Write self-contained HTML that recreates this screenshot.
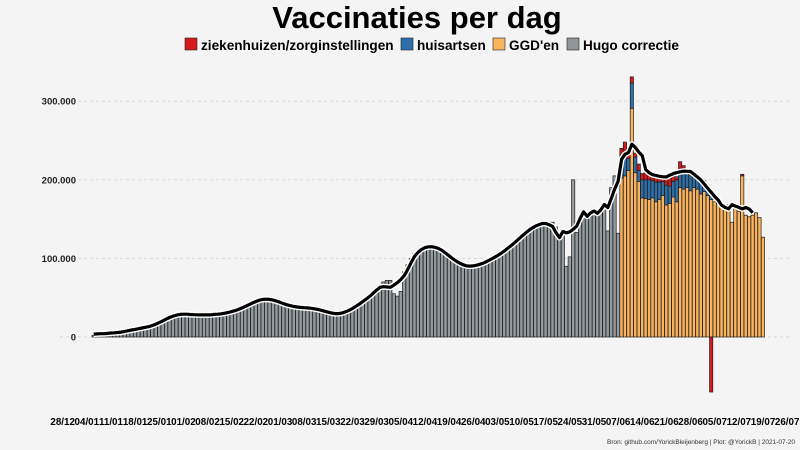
<!DOCTYPE html>
<html><head><meta charset="utf-8"><style>
body{margin:0;background:#f4f4f4;}
svg{display:block;font-family:"Liberation Sans",Arial,sans-serif;}
</style></head><body>
<svg id="chart" width="800" height="450" viewBox="0 0 800 450">
<rect width="800" height="450" fill="#f4f4f4"/>
<text x="417" y="28" text-anchor="middle" font-size="31" font-weight="bold" fill="#000">Vaccinaties per dag</text>
<g font-size="13.6" font-weight="bold">
 <g><rect x="185" y="38" width="12" height="12" fill="#d7191c" stroke="#222" stroke-width="0.6"/><text x="201" y="50">ziekenhuizen/zorginstellingen</text></g>
 <g><rect x="401" y="38" width="12" height="12" fill="#2f6fa8" stroke="#222" stroke-width="0.6"/><text x="417" y="50">huisartsen</text></g>
 <g><rect x="493" y="38" width="12" height="12" fill="#fbb45e" stroke="#222" stroke-width="0.6"/><text x="509" y="50">GGD'en</text></g>
 <g><rect x="567" y="38" width="12" height="12" fill="#8f979b" stroke="#222" stroke-width="0.6"/><text x="583" y="50">Hugo correctie</text></g>
</g>
<g id="grid"></g>
<g id="yaxis"></g>
<g id="bars"></g>
<g id="line"></g>
<g id="xaxis"></g>
<text x="795" y="444" text-anchor="end" font-size="6.5" fill="#333">Bron: github.com/YorickBleijenberg | Plot: @YorickB  |  2021-07-20</text>
</svg>
<script>
// values in thousands, day 0 = 06/01
const grayVals=[2,2,6,5,5,5,4,5,6,7,8,9,10,11,11,12,13,14,15,17,20,23,26,28,30,30,29,29,29,28,28,27,29,28,28,29,28,29,30,31,32,33,35,36,38,41,44,46,48,49,50,50,48,46,44,42,40,39,38,38,38,37,37,37,36,36,35,33,31,30,28,28,28,30,33,37,40,42,44,47,50,55,60,64,70,72,72,55,52,58,83,92,100,106,110,113,115,117,118,116,114,111,107,104,100,95,92,90,89,89,89,90,92,94,96,98,100,104,106,108,112,116,120,124,128,132,135,140,143,145,146,146,145,146,140,132,130,90,102,200,133,150,155,158,159,160,160,162,168,135,190,205,132];
const orangeVals=[202,205,212,291,209,198,177,176,175,177,172,175,180,168,170,178,172,190,188,190,186,190,188,182,185,180,175,172,170,168,165,168,146,165,160,205,155,153,155,158,152,127];
const blueVals=[30,28,15,32,20,14,23,24,25,22,25,22,18,25,22,20,28,18,20,20,20,18,15,20,12,12,10,0,0,0,0,0,0,0,0,0,0,0,0,0,0,0];
const redVals=[8,15,10,8,5,8,8,9,8,6,10,8,5,8,10,6,4,15,10,2,2,0,0,0,2,0,-70,0,0,0,0,0,0,0,0,2,0,0,0,0,0,0];
const yTicks=[0,100,200,300];
const yTickLabels=["0","100.000","200.000","300.000"];
const xTickLabels=["28/12","04/01","11/01","18/01","25/01","01/02","08/02","15/02","22/02","01/03","08/03","15/03","22/03","29/03","05/04","12/04","19/04","26/04","03/05","10/05","17/05","24/05","31/05","07/06","14/06","21/06","28/06","05/07","12/07","19/07","26/07"];

const NS="http://www.w3.org/2000/svg";
const dayW=3.45, x0=92, y0=337, kpx=0.786;
const X=d=>x0+d*dayW;
const Y=v=>y0-v*kpx;
function mk(tag,attrs,parent){const e=document.createElementNS(NS,tag);for(const k in attrs)e.setAttribute(k,attrs[k]);parent.appendChild(e);return e;}

const grid=document.getElementById('grid'), yaxis=document.getElementById('yaxis');
yTicks.forEach((t,i)=>{
  const l=mk('line',{x1:60,x2:792,y1:Y(t),y2:Y(t),stroke:'#d6d6d6','stroke-width':1,'stroke-dasharray':'3,3'},grid);
  
  
  const tx=mk('text',{x:76,y:Y(t)+3.5,'text-anchor':'end','font-size':9.5,'font-weight':'bold',fill:'#222'},yaxis);
  tx.textContent=yTickLabels[i];
  
  
});

const bars=document.getElementById('bars');
const bw=dayW-0.2;
function bar(d,v0,v1,fill,name){
  const top=Math.max(v0,v1), bot=Math.min(v0,v1);
  if(top-bot<=0)return;
  const r=mk('rect',{x:X(d),y:Y(top),width:bw,height:(top-bot)*kpx,fill:fill,stroke:'#1e1e1e','stroke-width':0.7},bars);
  
  
}
grayVals.forEach((v,i)=>bar(i,0,v,'#949ca0','bar-hugo-correctie'));
const off=grayVals.length;
const totals=grayVals.slice();
orangeVals.forEach((o,i)=>{
  const d=off+i;
  bar(d,0,o,'#fbb45e','bar-ggd');
  const b=blueVals[i]; bar(d,o,o+b,'#2f6fa8','bar-huisartsen');
  const r=redVals[i];
  if(r>=0) bar(d,o+b,o+b+r,'#d7191c','bar-ziekenhuizen');
  else bar(d,0,r,'#d7191c','bar-ziekenhuizen');
  totals.push(o+b+Math.max(r,0));
});

const pts=[];
for(let i=0;i<totals.length-3;i++){
  let s=0,n=0;for(let j=i-3;j<=i+3;j++){if(j>=0&&j<totals.length){s+=totals[j];n++;}}
  pts.push([X(i)+dayW/2,Y(s/n)]);
}
const dstr=pts.map((p,i)=>(i?'L':'M')+p[0].toFixed(1)+','+p[1].toFixed(1)).join(' ');
const lg=document.getElementById('line');
const lw=mk('path',{d:dstr,fill:'none',stroke:'#fff','stroke-width':6,'stroke-linejoin':'round'},lg);


const lb=mk('path',{d:dstr,fill:'none',stroke:'#000','stroke-width':3.2,'stroke-linejoin':'round'},lg);



const xaxis=document.getElementById('xaxis');
xTickLabels.forEach((t,i)=>{
  const d=-9+i*7;
  const tx=mk('text',{x:X(d)+dayW/2,y:425,'text-anchor':'middle','font-size':9.8,'font-weight':'bold',fill:'#000'},xaxis);
  tx.textContent=t;
  
  
});
</script>
</body></html>
